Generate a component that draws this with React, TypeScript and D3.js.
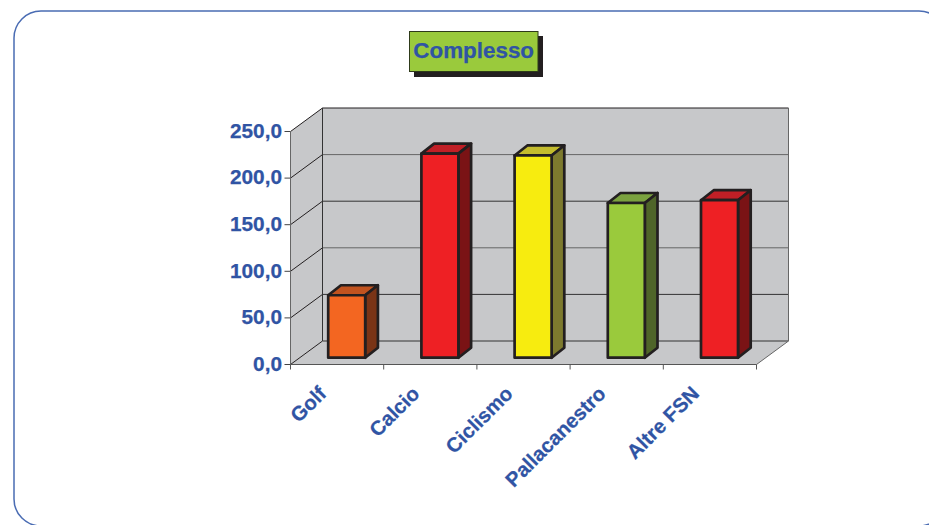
import React from "react";
import * as d3 from "d3";

const categories = ["Golf", "Calcio", "Ciclismo", "Pallacanestro", "Altre FSN"];
const values = [67, 219, 217, 166, 169];
const yTicks = [0, 50, 100, 150, 200, 250];
const tickLabels = ["0,0", "50,0", "100,0", "150,0", "200,0", "250,0"];
const frontColors = ["#f36621", "#ee2024", "#f7ec0f", "#9aca3c", "#ee2024"];
const topColors = ["#c1531f", "#c01f26", "#c4bc2d", "#7ba23f", "#c01f26"];
const sideColors = ["#7a3416", "#7a1315", "#7d7a2e", "#4f6529", "#7a1315"];

const BLUE = "#3054a4";
const INK = "#231f20";
const WALL = "#c7c8ca";
const FONT = "'Liberation Sans', Arial, sans-serif";

const x0 = 290.5, x1 = 756.5, yBase = 364.5, yTop = 131.5;
const dx = 32, dy = -23.5;
const barW = 37, barDx = 12.7, barDy = -10, barOffset = 37.7, barFloor = 357.7;

const x = d3.scaleBand<string>().domain(categories).range([x0, x1]);
const y = d3.scaleLinear().domain([0, 250]).range([yBase, yTop]);
const barY = d3.scaleLinear().domain([0, 250]).range([barFloor, barFloor - (yBase - yTop)]);
const poly = (p: [number, number][]) => d3.line()(p) + "Z";

export default function App() {
  return (
    <svg width={929} height={525} style={{ position: "absolute", left: 0, top: 0, background: "#fff" }} fontFamily={FONT}>
      <rect x={14} y={11} width={932} height={515} rx={27} ry={27} fill="#fff" stroke="#4a6cb3" strokeWidth={1.5} />

      <rect x={414} y={36} width={129} height={41} fill={INK} />
      <rect x={409.5} y={31.5} width={128.5} height={40} fill="#9aca3c" stroke="#2e3a1a" strokeWidth={1} />
      <text x={473.7} y={58} textAnchor="middle" fontSize={22.4} fontWeight={700} fill={BLUE} stroke={BLUE} strokeWidth={0.25}>Complesso</text>

      {/* walls */}
      <path d={poly([[x0 + dx, y(250) + dy], [x1 + dx, y(250) + dy], [x1 + dx, yBase + dy], [x0 + dx, yBase + dy]])} fill={WALL} />
      <path d={poly([[x0, y(250)], [x0 + dx, y(250) + dy], [x0 + dx, yBase + dy], [x0, yBase]])} fill={WALL} />
      <path d={poly([[x0, yBase], [x1, yBase], [x1 + dx, yBase + dy], [x0 + dx, yBase + dy]])} fill={WALL} />

      {yTicks.map((t, i) => (
        <g key={t}>
          {t > 0 && t < 250 && (
            <line x1={x0 + dx} x2={x1 + dx} y1={y(t) + dy} y2={y(t) + dy} stroke={i % 2 ? "#333" : "#666"} strokeWidth={1} />
          )}
          <line x1={x0} x2={x0 + dx} y1={y(t)} y2={y(t) + dy} stroke={INK} strokeWidth={1} />
          <line x1={x0 - 6} x2={x0} y1={y(t)} y2={y(t)} stroke="#444" strokeWidth={1} />
          <text x={282} y={y(t) + 6.3} textAnchor="end" fontSize={20.8} fontWeight={700} fill={BLUE} stroke={BLUE} strokeWidth={0.25}>{tickLabels[i]}</text>
        </g>
      ))}
      <line x1={x0 + dx} x2={x1 + dx} y1={yBase + dy} y2={yBase + dy} stroke="#333" strokeWidth={1} />
      <line x1={x0 + dx} x2={x1 + dx} y1={y(250) + dy} y2={y(250) + dy} stroke={INK} strokeWidth={1} />
      <line x1={x0 + dx} x2={x0 + dx} y1={y(250) + dy} y2={yBase + dy} stroke="#333" strokeWidth={1} />
      <line x1={x1 + dx} x2={x1 + dx} y1={y(250) + dy} y2={yBase + dy} stroke="#666" strokeWidth={1} />
      <line x1={x0} x2={x0} y1={y(250)} y2={yBase} stroke="#666" strokeWidth={1} />
      <line x1={x1} x2={x1 + dx} y1={yBase} y2={yBase + dy} stroke="#666" strokeWidth={1} />
      <line x1={x0} x2={x1} y1={yBase} y2={yBase} stroke="#555" strokeWidth={1} />

      {[...categories.map((c) => x(c)!), x1].map((tx) => (
        <line key={tx} x1={tx} x2={tx} y1={yBase} y2={yBase + 5} stroke="#555" strokeWidth={1} />
      ))}

      {/* bars */}
      {categories.map((c, i) => {
        const l = x(c)! + barOffset;
        const r = l + barW;
        const t = barY(values[i]);
        return (
          <g key={c} stroke={INK} strokeWidth={2.7} strokeLinejoin="round">
            <path d={poly([[l, t], [l + barDx, t + barDy], [r + barDx, t + barDy], [r, t]])} fill={topColors[i]} />
            <path d={poly([[r, t], [r + barDx, t + barDy], [r + barDx, barFloor + barDy], [r, barFloor]])} fill={sideColors[i]} />
            <path d={poly([[l, t], [r, t], [r, barFloor], [l, barFloor]])} fill={frontColors[i]} />
          </g>
        );
      })}

      {categories.map((c) => {
        const ax = x(c)! + x.bandwidth() / 2 - 8;
        return (
          <text key={c} transform={`translate(${ax - 11.5},${385}) rotate(-45)`} textAnchor="end" fontSize={20.3} fontWeight={700} fill={BLUE} stroke={BLUE} strokeWidth={0.25} dy={14}>{c}</text>
        );
      })}
    </svg>
  );
}
